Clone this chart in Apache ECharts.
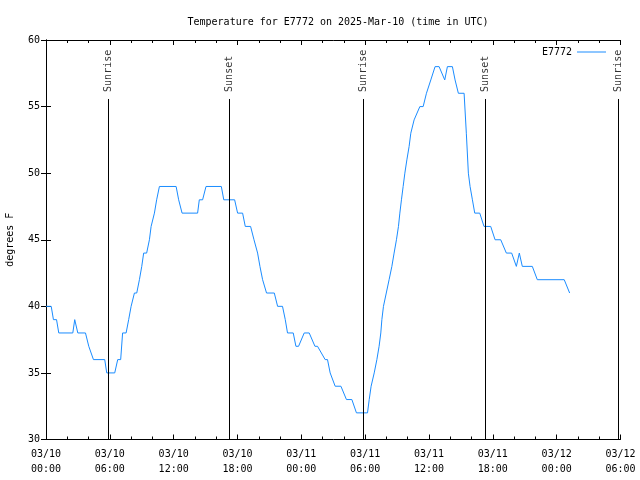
<!DOCTYPE html>
<html><head><meta charset="utf-8">
<script src="https://cdn.jsdelivr.net/npm/echarts@6/dist/echarts.min.js"></script>
<style>html,body{margin:0;padding:0;background:#fff}#c{width:640px;height:480px}</style>
</head><body><div id="c"></div>
<script>
// hours since 2025-03-10 00:00 UTC
const hours = [0,0.49,0.70,0.99,1.2,2.52,2.70,2.99,3.71,4.02,4.46,5.52,5.71,6.46,6.74,7.02,7.2,7.53,7.77,8.0,8.31,8.53,8.78,9.0,9.18,9.46,9.72,9.88,10.19,10.4,10.66,12.23,12.47,12.79,14.25,14.41,14.72,15.04,16.48,16.71,17.73,18.01,18.48,18.73,19.23,19.55,19.89,20.11,20.36,20.73,21.46,21.77,22.23,22.49,22.7,23.24,23.49,23.74,24.27,24.74,25.28,25.52,26.24,26.46,26.71,27.18,27.72,28.24,28.75,29.18,30.22,30.38,30.56,30.85,31.1,31.31,31.47,31.57,31.72,32.25,32.51,32.72,32.94,33.13,33.26,33.41,33.57,33.73,33.92,34.13,34.29,34.6,35.14,35.45,35.76,36.17,36.57,36.95,37.48,37.73,38.2,38.45,38.76,39.3,39.51,39.7,39.86,40.08,40.3,40.77,41.17,41.8,42.21,42.74,43.27,43.77,44.21,44.49,44.77,45.71,46.18,48.71,49.22];
const temps = [40,40,39,39,38,38,39,38,38,37,36,36,35,35,36,36,38,38,39,40,41,41,42,43,44,44,45,46,47,48,49,49,48,47,47,48,48,49,49,48,48,47,47,46,46,45,44,43,42,41,41,40,40,39,38,38,37,37,38,38,37,37,36,36,35,34,34,33,33,32,32,33,34,35,36,37,38,39,40,42,43,44,45,46,47,48,49,50,51,52,53,54,55,55,56,57,58,58,57,58,58,57,56,56,53,50,49,48,47,47,46,46,45,45,44,44,43,44,43,43,42,42,41];
const sunHours = [5.82, 17.23, 29.82, 41.29, 53.79];
const sunLabels = ['Sunrise','Sunset','Sunrise','Sunset','Sunrise'];
const xTickLabels = ['03/10\n00:00','03/10\n06:00','03/10\n12:00','03/10\n18:00','03/11\n00:00','03/11\n06:00','03/11\n12:00','03/11\n18:00','03/12\n00:00','03/12\n06:00'];
const yTicks = [30,35,40,45,50,55,60];
const seriesName = 'E7772';
const titleText = 'Temperature for E7772 on 2025-Mar-10 (time in UTC)';

const FONT = 'DejaVu Sans Mono';
const lineData = hours.map((h,i)=>[h,temps[i]]);
const markData = sunHours.map(h=>[{coord:[h,30]},{coord:[h,55.57]}]);
const labelData = sunHours.map((h,i)=>({value:[h,56.1],name:sunLabels[i]}));

const chart = echarts.init(document.getElementById('c'));
const xCommon = {type:'value',min:0,max:54,interval:6,
  axisLine:{show:true,lineStyle:{color:'#000',width:1}},
  axisTick:{show:true,inside:true,length:5,lineStyle:{color:'#000'}},
  minorTick:{show:true,splitNumber:3,length:3,lineStyle:{color:'#000'}},
  splitLine:{show:false}};
const yCommon = {type:'value',min:30,max:60,interval:5,
  axisLine:{show:true,lineStyle:{color:'#000',width:1}},
  axisTick:{show:true,inside:true,length:5,lineStyle:{color:'#000'}},
  splitLine:{show:false}};
chart.setOption({
  animation:false,
  backgroundColor:'#fff',
  title:{text:titleText,left:333,top:12,textAlign:'center',
    textStyle:{fontFamily:FONT,fontSize:10,fontWeight:'normal',color:'#000'}},
  legend:{data:[{name:seriesName,icon:'rect'}],right:29,top:42,itemWidth:29,itemHeight:1,itemGap:6,align:'right',
    textStyle:{fontFamily:FONT,fontSize:10,color:'#000'}},
  grid:{left:46,right:19.5,top:40,bottom:40.5,containLabel:false,outerBoundsMode:'none'},
  xAxis:[
    Object.assign({},xCommon,{position:'bottom',
      axisLabel:{fontFamily:FONT,fontSize:10,color:'#000',lineHeight:15,margin:7,
        formatter:v=>xTickLabels[Math.round(v/6)]||''}}),
    Object.assign({},xCommon,{position:'top',axisLabel:{show:false}})
  ],
  yAxis:[
    Object.assign({},yCommon,{position:'left',name:'degrees F',nameLocation:'middle',nameGap:31,nameRotate:90,
      nameTextStyle:{fontFamily:FONT,fontSize:10,color:'#000'},
      axisLabel:{fontFamily:FONT,fontSize:10,color:'#000',margin:6}}),
    Object.assign({},yCommon,{position:'right',axisLabel:{show:false}})
  ],
  series:[
    {name:seriesName,type:'line',data:lineData,symbol:'none',showSymbol:false,
      lineStyle:{color:'#1a8cff',width:1},itemStyle:{color:'#1a8cff'},
      markLine:{silent:true,symbol:'none',label:{show:false},
        lineStyle:{color:'#000',width:1,type:'solid'},data:markData}},
    {name:'sun',type:'scatter',data:labelData,symbolSize:0,silent:true,
      label:{show:true,formatter:p=>p.name,position:'inside',rotate:90,align:'left',verticalAlign:'middle',
        fontFamily:FONT,fontSize:10,color:'#000'}}
  ]
});
</script></body></html>
